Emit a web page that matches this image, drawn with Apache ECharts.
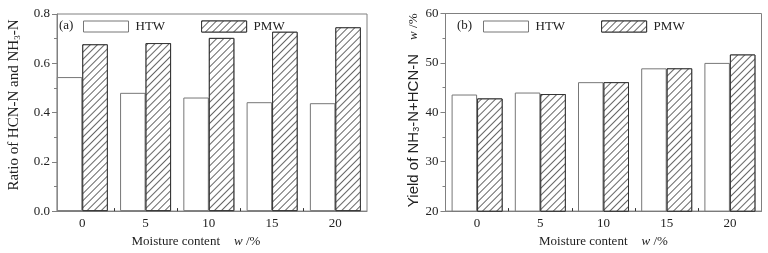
<!DOCTYPE html>
<html>
<head>
<meta charset="utf-8">
<script src="https://cdn.jsdelivr.net/npm/echarts@6/dist/echarts.min.js"></script>
<style>
  html, body { margin: 0; padding: 0; background: #fff; }
  #chart { width: 768px; height: 253px; }
</style>
</head>
<body>
<div id="chart"></div>
<script>
// moisture content w /%
var moisture = [0, 5, 10, 15, 20]
// (a) ratio of HCN-N and NH3-N
var ratioHTW = [0.544, 0.480, 0.461, 0.442, 0.438]
var ratioPMW = [0.677, 0.682, 0.703, 0.728, 0.746]
// (b) yield of NH3-N+HCN-N, w /%
var yieldHTW = [43.6, 44.0, 46.1, 48.9, 50.0]
var yieldPMW = [42.8, 43.7, 46.1, 48.9, 51.7]

var xLabels = [0, 5, 10, 15, 20]
var xMinorTicks = [2.5, 7.5, 12.5, 17.5]

var font = 'Liberation Serif'
var sans = 'Liberation Sans'
var ink = '#222'
var frame = '#808080'

// hatch for PMW bars
var hatch = {
  symbol: 'rect',
  symbolSize: 1,
  dashArrayX: [1, 0],
  dashArrayY: [1, 4],
  rotation: -Math.PI / 4,
  color: '#666',
  backgroundColor: '#fff'
}

function pairs(xs, ys) {
  return xs.map(function (x, i) { return [x, ys[i]] })
}

function xAxisOf(idx, min) {
  return {
    type: 'value',
    gridIndex: idx,
    min: min,
    max: 22.5,
    name: '{t|Moisture content}{g|}{i|w} {t|/%}',
    nameLocation: 'middle',
    nameGap: 19,
    nameTextStyle: {
      padding: idx === 0 ? [0, 32, 0, 0] : [0, 0, 0, 0],
      rich: {
        t: { fontFamily: font, fontSize: 13, color: ink },
        i: { fontFamily: font, fontSize: 13, color: ink, fontStyle: 'italic' },
        g: { width: 14 }
      }
    },
    axisLine: { show: true, onZero: false, lineStyle: { color: frame } },
    axisTick: { show: true, inside: true, length: 3, customValues: xMinorTicks, lineStyle: { color: '#333' } },
    axisLabel: { customValues: xLabels, fontFamily: font, fontSize: 13, color: ink, margin: 6 },
    splitLine: { show: false }
  }
}

function yAxisOf(idx, min, max, step, digits, name, family, size, shift, gap) {
  return {
    type: 'value',
    gridIndex: idx,
    min: min,
    max: max,
    interval: step,
    name: name,
    nameLocation: 'middle',
    nameGap: gap,
    nameTextStyle: {
      padding: shift,
      rich: {
        t: { fontFamily: family, fontSize: size, color: ink },
        s: { fontFamily: family, fontSize: 9, color: ink, verticalAlign: 'bottom', lineHeight: 10 },
        i: { fontFamily: font, fontSize: 13, color: ink, fontStyle: 'italic' },
        u: { fontFamily: font, fontSize: 13, color: ink },
        g: { width: 14 }
      }
    },
    axisLine: { show: true, onZero: false, lineStyle: { color: frame } },
    axisTick: { show: true, length: 5, lineStyle: { color: frame } },
    minorTick: { show: true, splitNumber: 2, length: 3, lineStyle: { color: frame } },
    axisLabel: {
      fontFamily: font, fontSize: 13, color: ink, margin: 7,
      formatter: function (v) { return v.toFixed(digits) }
    },
    splitLine: { show: false }
  }
}

function barSeries(name, idx, ys, border, decal) {
  return {
    name: name,
    type: 'bar',
    xAxisIndex: idx,
    yAxisIndex: idx,
    barWidth: 25.5,
    barGap: '0%',
    data: pairs(moisture, ys),
    itemStyle: { color: '#fff', borderColor: border, borderWidth: 1, decal: decal },
    emphasis: { disabled: true }
  }
}

function legendOf(idx, left) {
  return {
    data: [
      { name: 'HTW' + idx, itemStyle: { color: '#fff', borderColor: '#777', borderWidth: 1 } },
      { name: 'PMW' + idx, itemStyle: { color: '#fff', borderColor: '#333', borderWidth: 1, decal: hatch } }
    ],
    left: left,
    top: 20,
    padding: 0,
    itemWidth: 45,
    itemHeight: 11,
    itemGap: 36,
    icon: 'rect',
    selectedMode: false,
    formatter: function (n) { return n.slice(0, 3) },
    textStyle: { fontFamily: font, fontSize: 13, color: ink, padding: [0, 0, 0, 2] }
  }
}

var chart = echarts.init(document.getElementById('chart'), null, { renderer: 'canvas' })

chart.setOption({
  backgroundColor: '#fff',
  animation: false,
  grid: [
    { left: 57, top: 14, width: 310, height: 204, show: true, borderColor: frame, borderWidth: 1, backgroundColor: 'transparent' },
    { left: 445.5, top: 13.5, width: 316, height: 203.5, show: true, borderColor: frame, borderWidth: 1, backgroundColor: 'transparent' }
  ],
  legend: [legendOf('a', 83), legendOf('b', 483)],
  graphic: [
    { type: 'text', left: 59, top: 19, style: { text: '(a)', font: '13px ' + font, fill: ink } },
    { type: 'text', left: 457, top: 19, style: { text: '(b)', font: '13px ' + font, fill: ink } }
  ],
  xAxis: [xAxisOf(0, -2), xAxisOf(1, -2.5)],
  yAxis: [
    yAxisOf(0, 0, 0.8, 0.2, 1, '{t|Ratio of HCN-N and NH}{s|3}{t|-N}', font, 15, [0, 0, 0, 15], 35),
    yAxisOf(1, 20, 60, 10, 0, '{t|Yield of NH}{s|3}{t|-N+HCN-N}{g|}{i|w} {u|/%}', sans, 15, [0, 0, 0, 4], 24)
  ],
  series: [
    barSeries('HTWa', 0, ratioHTW, '#777', null),
    barSeries('PMWa', 0, ratioPMW, '#333', hatch),
    barSeries('HTWb', 1, yieldHTW, '#777', null),
    barSeries('PMWb', 1, yieldPMW, '#333', hatch)
  ]
})
</script>
</body>
</html>
